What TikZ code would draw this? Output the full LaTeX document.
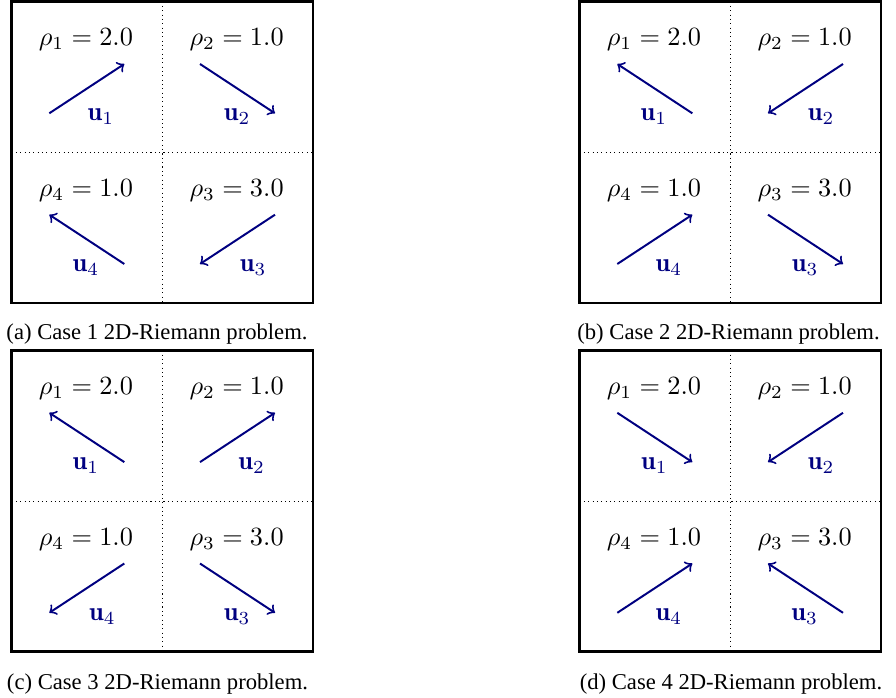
\documentclass[tikz,border=0pt]{standalone}
\usepackage{fontspec}
\newfontfamily\capfont{Liberation Serif}
\definecolor{navyblue}{RGB}{0,0,128}
\tikzset{
  panelbox/.style={line width=1.1pt},
  midline/.style={line width=0.4pt, dash pattern=on 0.4pt off 1.25pt},
  velarrow/.style={navyblue, line width=0.75pt, ->},
  rholab/.style={inner sep=0pt, anchor=base},
  ulab/.style={inner sep=0pt, anchor=base, text=navyblue},
  caplab/.style={inner sep=0pt, anchor=base, font=\capfont\fontsize{8.6}{10}\selectfont},
}
% #1 name, #2 quadrant centre, #3 rho value, #4 index, #5 arrow start, #6 arrow end, #7 label x offset
\newcommand\rquad[7]{%
  \begin{scope}[shift={#2}]
    \node[rholab] (#1r) at (-1,-31.2) {$\rho_{#4} = #3$};
    \coordinate (#1s) at #5;
    \coordinate (#1e) at #6;
    \draw[velarrow] (#1s) -- (#1e);
    \node[ulab] (#1u) at (#7,43.8) {$\mathbf{u}_{#4}$};
  \end{scope}}
% #1 name
\newcommand\rframe[1]{%
  \draw[panelbox] (0,0) rectangle (301.5,301.5);
  \coordinate (#1vt) at (150.75,0);
  \coordinate (#1vb) at (150.75,301.5);
  \coordinate (#1hl) at (0,150.75);
  \coordinate (#1hr) at (301.5,150.75);
  \draw[midline] (#1vt) -- (#1vb);
  \draw[midline] (#1hl) -- (#1hr);}
\begin{document}
\begin{tikzpicture}[x=0.38pt, y=-0.38pt]
\useasboundingbox (0,0) rectangle (896,698);
% (a)
\begin{scope}[shift={(11.5,1.5)}]
  \rframe{a}
  \rquad{aq1}{(75.4,75.4)}{2.0}{1}{(-37.6,36.4)}{(37.4,-12.9)}{14}
  \rquad{aq2}{(226.1,75.4)}{1.0}{2}{(-37.6,-12.9)}{(37.4,36.4)}{-0.5}
  \rquad{aq4}{(75.4,226.1)}{1.0}{4}{(37.4,36.4)}{(-37.6,-12.9)}{-1}
  \rquad{aq3}{(226.1,226.1)}{3.0}{3}{(37.4,-12.9)}{(-37.6,36.4)}{15.5}
  \node[caplab] (acap) at (145.5,337.5) {(a) Case 1 2D-Riemann problem.};
\end{scope}
% (b)
\begin{scope}[shift={(579.5,1.5)}]
  \rframe{b}
  \rquad{bq1}{(75.4,75.4)}{2.0}{1}{(37.4,36.4)}{(-37.6,-12.9)}{-1}
  \rquad{bq2}{(226.1,75.4)}{1.0}{2}{(37.4,-12.9)}{(-37.6,36.4)}{15.5}
  \rquad{bq4}{(75.4,226.1)}{1.0}{4}{(-37.6,36.4)}{(37.4,-12.9)}{14}
  \rquad{bq3}{(226.1,226.1)}{3.0}{3}{(-37.6,-12.9)}{(37.4,36.4)}{-0.5}
  \node[caplab] (bcap) at (149,337.5) {(b) Case 2 2D-Riemann problem.};
\end{scope}
% (c)
\begin{scope}[shift={(11.5,350.3)}]
  \rframe{c}
  \rquad{cq1}{(75.4,75.4)}{2.0}{1}{(37.4,36.4)}{(-37.6,-12.9)}{-1}
  \rquad{cq2}{(226.1,75.4)}{1.0}{2}{(-37.6,36.4)}{(37.4,-12.9)}{14}
  \rquad{cq4}{(75.4,226.1)}{1.0}{4}{(37.4,-12.9)}{(-37.6,36.4)}{15.5}
  \rquad{cq3}{(226.1,226.1)}{3.0}{3}{(-37.6,-12.9)}{(37.4,36.4)}{-0.5}
  \node[caplab] (ccap) at (146,339.5) {(c) Case 3 2D-Riemann problem.};
\end{scope}
% (d)
\begin{scope}[shift={(579.5,350.3)}]
  \rframe{d}
  \rquad{dq1}{(75.4,75.4)}{2.0}{1}{(-37.6,-12.9)}{(37.4,36.4)}{-0.5}
  \rquad{dq2}{(226.1,75.4)}{1.0}{2}{(37.4,-12.9)}{(-37.6,36.4)}{15.5}
  \rquad{dq4}{(75.4,226.1)}{1.0}{4}{(-37.6,36.4)}{(37.4,-12.9)}{14}
  \rquad{dq3}{(226.1,226.1)}{3.0}{3}{(37.4,36.4)}{(-37.6,-12.9)}{-1}
  \node[caplab] (dcap) at (151.5,339.5) {(d) Case 4 2D-Riemann problem.};
\end{scope}
\end{tikzpicture}
\end{document}
